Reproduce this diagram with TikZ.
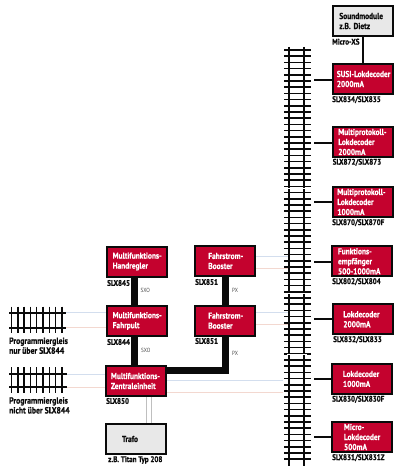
\documentclass[tikz,border=0pt]{standalone}
\usepackage{fontspec}
\setmainfont[FakeStretch=0.86,BoldFeatures={FakeBold=0.6}]{PT Sans}
\definecolor{boxred}{HTML}{C4022E}
\definecolor{boxgray}{HTML}{E8E8E8}
\definecolor{wireblue}{HTML}{D3DEEE}
\definecolor{wirepink}{HTML}{F3D8D0}
\definecolor{ink}{HTML}{0A0A0A}
\newcommand{\tl}[1]{\mbox{#1}}
\tikzset{
  basebox/.style={draw=ink,line width=2pt,minimum width=60pt,minimum height=30pt,inner sep=0pt,
    align=left,font=\fontsize{8.6}{10}\selectfont\bfseries,text width={(60pt-2*#1pt)}},
  redbox/.style={basebox=#1,fill=boxred,text=white},
  graybox/.style={basebox=#1,fill=boxgray,text=ink},
  caption/.style={anchor=west,inner sep=0pt,font=\fontsize{8.2}{9.8}\selectfont\bfseries,text=ink,align=left},
  longcaption/.style={caption,font=\fontsize{9}{9.8}\selectfont\bfseries},
  buslabel/.style={anchor=west,inner sep=0pt,font=\fontsize{6}{6}\selectfont,text=black!70},
  thickbus/.style={line width=7pt,draw=ink},
  stub/.style={line width=1.4pt,draw=ink},
  rail/.style={line width=1.8pt,draw=ink},
  tie/.style={line width=1.5pt,draw=ink},
  blueline/.style={line width=.8pt,draw=wireblue},
  pinkline/.style={line width=.8pt,draw=wirepink},
  mains/.style={line width=1pt,draw=black!25}
}
\begin{document}
\begin{tikzpicture}[x=1pt,y=-1pt]
\useasboundingbox (0,0) rectangle (400,470);
\fill[white] (0,0) rectangle (400,470);
% vertical track
\foreach \y in {50,56.2,...,463}{\draw[tie] (284,\y) -- (311,\y);}
\draw[rail] (289.3,47) -- (289.3,466);
\draw[rail] (304.3,47) -- (304.3,466);
\foreach \y in {188,293,354}{\draw[white,line width=.8pt] (287,\y) -- (307,\y);}
% horizontal tracks
\foreach \x in {11.5,17.8,...,64}{
  \draw[tie] (\x,306.7) -- (\x,332.7);
  \draw[tie] (\x,367) -- (\x,393);}
\draw[rail] (9,312.7) -- (65.5,312.7);
\draw[rail] (9,327.7) -- (65.5,327.7);
\draw[rail] (9,374) -- (67,374);
\draw[rail] (9,387) -- (67,387);
\coordinate (tpb) at (65.5,312.7);
\coordinate (tpp) at (65.5,327.7);
\coordinate (tzb) at (67,374);
\coordinate (tzp) at (67,387);
\coordinate (rzb) at (283,380);
\coordinate (rzp) at (283,392.7);
\coordinate (b1b) at (288,256.7);
\coordinate (b1p) at (288,268);
\coordinate (b2b) at (288,312);
\coordinate (b2p) at (288,324.7);
% boxes
\node[redbox=6] (hand) at (136.7,261.5) {\tl{Multifunktions-}\\\tl{Handregler}};
\node[redbox=6] (pult) at (136.7,321) {\tl{Multifunktions-}\\\tl{Fahrpult}};
\node[redbox=5] (zent) at (136,381) {\tl{Multifunktions-}\\\tl{Zentraleinheit}};
\node[graybox=16] (trafo) at (136,439) {Trafo};
\node[redbox=13] (boost1) at (225.3,261) {\tl{Fahrstrom-}\\\tl{Booster}};
\node[redbox=13] (boost2) at (225.3,320.7) {\tl{Fahrstrom-}\\\tl{Booster}};
\node[graybox=6.5] (sound) at (362.8,21) {\tl{Soundmodule}\\\tl{z.B. Dietz}};
\node[redbox=4] (susi) at (362.8,79) {\tl{SUSI-Lokdecoder}\\\tl{2000mA}};
\node[redbox=5.5] (mp2) at (362.8,142) {\tl{Multiprotokoll-}\\\tl{Lokdecoder}\\\tl{2000mA}};
\node[redbox=4.5] (mp1) at (362.8,202) {\tl{Multiprotokoll-}\\\tl{Lokdecoder}\\\tl{1000mA}};
\node[redbox=6] (funk) at (362,261.3) {\tl{Funktions-}\\\tl{empfänger}\\\tl{500-1000mA}};
\node[redbox=10.5] (lok2) at (362.8,319.3) {\tl{Lokdecoder}\\\tl{2000mA}};
\node[redbox=11] (lok1) at (362,379) {\tl{Lokdecoder}\\\tl{1000mA}};
\node[redbox=12] (micro) at (362,437) {\tl{Micro-}\\\tl{Lokdecoder}\\\tl{500mA}};
% faint wires
\draw[blueline] (tpb) -- (pult.west |- tpb);
\draw[pinkline] (tpp) -- (pult.west |- tpp);
\draw[blueline] (tzb) -- (zent.west |- tzb);
\draw[pinkline] (tzp) -- (zent.west |- tzp);
\draw[blueline] (zent.east |- rzb) -- (rzb);
\draw[pinkline] (zent.east |- rzp) -- (rzp);
\draw[blueline] (boost1.east |- b1b) -- (b1b);
\draw[pinkline] (boost1.east |- b1p) -- (b1p);
\draw[blueline] (boost2.east |- b2b) -- (b2b);
\draw[pinkline] (boost2.east |- b2p) -- (b2p);
% mains
\draw[mains] ([xshift=10.3pt]zent.south) -- ([xshift=10.3pt]trafo.north);
\draw[mains] ([xshift=15.3pt]zent.south) -- ([xshift=15.3pt]trafo.north);
% buses
\draw[thickbus] ([xshift=-2.7pt]hand.south) -- ([xshift=-2.7pt]pult.north);
\draw[thickbus] ([xshift=-2.7pt]pult.south) -- ([xshift=-2pt]zent.north);
\draw[thickbus] (boost1.south) -- (boost2.north);
\draw[thickbus,line join=miter] (boost2.south) |- (zent.east |- 0,370);
% stubs
\draw[stub] (sound.south) -- (susi.north);
\foreach \b/\y in {susi/80,mp2/143,mp1/202,funk/262,lok2/319,lok1/379,micro/437}{
  \draw[stub] (314,\y) coordinate (s\b) -- (\b.west |- s\b);}
% captions
\node[caption] (c1) at (107,283) {SLX845};
\node[caption] (c2) at (107,342) {SLX844};
\node[caption] (c3) at (106,401) {SLX850};
\node[caption] (c4) at (108,460) {z.B. Titan Typ 208};
\node[caption] (c5) at (195,282) {SLX851};
\node[caption] (c6) at (195,341) {SLX851};
\node[longcaption] (c7) at (9,345.7) {Programmiergleis\\nur über SLX844};
\node[longcaption] (c8) at (9,405.4) {Programmiergleis\\nicht über SLX844};
\node[caption] (c9) at (332,41.7) {Micro-XS};
\node[caption] (c10) at (332,99.7) {SLX834/SLX835};
\node[caption] (c11) at (332.5,162.3) {SLX872/SLX873};
\node[caption] (c12) at (332,222.7) {SLX870/SLX870F};
\node[caption] (c13) at (332,281.7) {SLX802/SLX804};
\node[caption] (c14) at (333,339.7) {SLX832/SLX833};
\node[caption] (c15) at (332,399.3) {SLX830/SLX830F};
\node[caption] (c16) at (332,457.7) {SLX831/SLX831Z};
\node[buslabel] (l1) at (140.5,290.7) {SXO};
\node[buslabel] (l2) at (141,350) {SXO};
\node[buslabel] (l3) at (232,290.7) {PX};
\node[buslabel] (l4) at (232,353) {PX};
\end{tikzpicture}
\end{document}
